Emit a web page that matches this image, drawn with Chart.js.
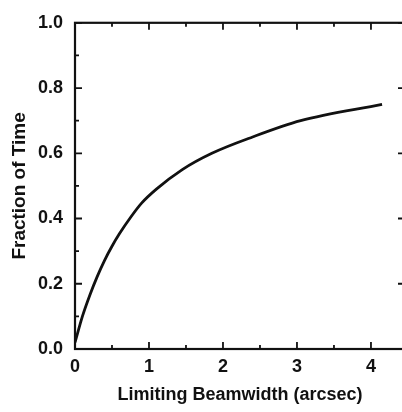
<!DOCTYPE html>
<html>
<head>
<meta charset="utf-8">
<script src="https://cdn.jsdelivr.net/npm/chart.js@4"></script>
<style>
  html, body { margin: 0; padding: 0; background: #fff; overflow: hidden; }
</style>
</head>
<body>
<canvas id="chart" width="410" height="412"></canvas>
<script>
// curve
var beamwidth = [0, 0.1, 0.2, 0.3, 0.4, 0.5, 0.6, 0.75, 0.9, 1.1, 1.45, 1.85, 2.4, 3.05, 4.15];
var fraction = [0.02, 0.1, 0.165, 0.222, 0.272, 0.315, 0.353, 0.403, 0.447, 0.49, 0.55, 0.6, 0.65, 0.7, 0.75];

var xTicks = [0, 1, 2, 3, 4];
var xMinor = [0.5, 1.5, 2.5, 3.5];
var yTicks = [0, 0.2, 0.4, 0.6, 0.8, 1.0];
var yMinor = [0.1, 0.3, 0.5, 0.7, 0.9];

var ink = "#111";

// frame with inward ticks on all sides
var framePlugin = {
  id: "frame",
  afterDatasetsDraw: function (chart) {
    var ctx = chart.ctx;
    var a = chart.chartArea;
    var xs = chart.scales.x, ys = chart.scales.y;
    ctx.save();
    ctx.strokeStyle = ink;
    ctx.lineWidth = 2.2;
    ctx.strokeRect(a.left, a.top, a.right - a.left, a.bottom - a.top);
    ctx.lineWidth = 1.8;
    ctx.beginPath();
    function xt(v, len, top) {
      var p = xs.getPixelForValue(v);
      ctx.moveTo(p, a.bottom); ctx.lineTo(p, a.bottom - len);
      if (top) { ctx.moveTo(p, a.top); ctx.lineTo(p, a.top + len); }
    }
    function yt(v, len, right) {
      var p = ys.getPixelForValue(v);
      ctx.moveTo(a.left, p); ctx.lineTo(a.left + len, p);
      if (right) { ctx.moveTo(a.right, p); ctx.lineTo(a.right - len, p); }
    }
    xTicks.forEach(function (v) { xt(v, 7, true); });
    xMinor.forEach(function (v) { xt(v, 4, true); });
    yTicks.forEach(function (v) { yt(v, 7, true); });
    yMinor.forEach(function (v) { yt(v, 4, false); });
    ctx.stroke();
    ctx.restore();
  }
};

var family = "'Liberation Sans', Arial, sans-serif";
var tickFont = { family: family, size: 18, weight: "bold" };

new Chart(document.getElementById("chart").getContext("2d"), {
  type: "line",
  data: {
    datasets: [{
      data: beamwidth.map(function (b, i) { return { x: b, y: fraction[i] }; }),
      borderColor: ink,
      borderWidth: 2.8,
      pointRadius: 0,
      fill: false,
      cubicInterpolationMode: "monotone"
    }]
  },
  options: {
    responsive: false,
    animation: false,
    devicePixelRatio: 1,
    layout: { padding: { top: 19, right: 5, left: 0, bottom: 0 } },
    plugins: { legend: { display: false }, tooltip: { enabled: false } },
    scales: {
      x: {
        type: "linear",
        min: 0,
        max: 4.46,
        afterBuildTicks: function (s) { s.ticks = xTicks.map(function (v) { return { value: v }; }); },
        afterFit: function (s) { s.height = 63; },
        grid: { display: false, drawTicks: false },
        border: { display: false },
        ticks: { color: ink, font: tickFont, padding: 7, maxRotation: 0 },
        title: { display: true, text: "Limiting Beamwidth (arcsec)", color: ink, font: { family: family, size: 18, weight: "bold" }, padding: { top: 0, bottom: 6 } }
      },
      y: {
        type: "linear",
        min: 0,
        max: 1,
        afterBuildTicks: function (s) { s.ticks = yTicks.map(function (v) { return { value: v }; }); },
        afterFit: function (s) { s.width = 75; },
        grid: { display: false, drawTicks: false },
        border: { display: false },
        ticks: { color: ink, font: tickFont, padding: 12, callback: function (v) { return v.toFixed(1); } },
        title: { display: true, text: "Fraction of Time", color: ink, font: { family: family, size: 19, weight: "bold" }, padding: { top: 8, bottom: 0 } }
      }
    }
  },
  plugins: [framePlugin]
});
</script>
</body>
</html>
